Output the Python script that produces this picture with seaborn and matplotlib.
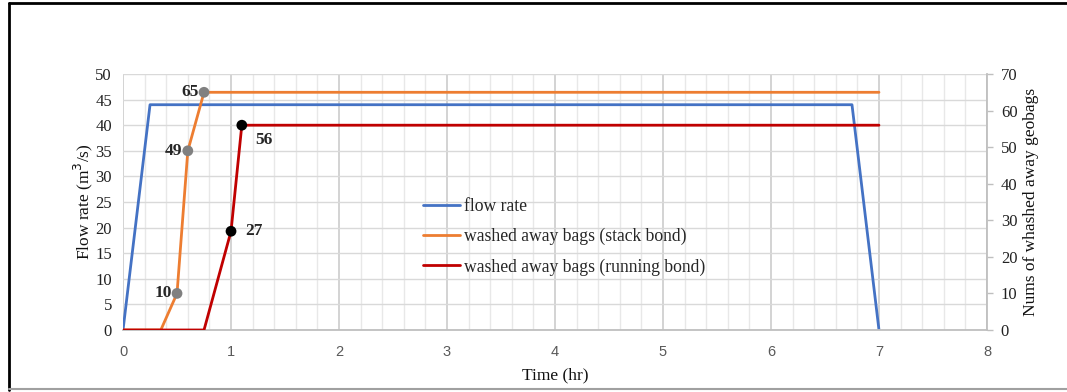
import matplotlib
matplotlib.use("Agg")
import matplotlib.pyplot as plt
from matplotlib.lines import Line2D
from matplotlib.ticker import MultipleLocator
import seaborn as sns
import pandas as pd

# Flow hydrograph (left axis)
flow_time = [0, 0.25, 6.75, 7]
flow_rate = [0, 44, 44, 0]

# Cumulative washed-away geobags (right axis)
stack_time = [0, 0.35, 0.5, 0.6, 0.75, 7]
stack_bags = [0, 0, 10, 49, 65, 65]
running_time = [0, 0.75, 1.0, 1.1, 7]
running_bags = [0, 0, 27, 56, 56]

# Points that carry a marker and a value label
stack_marked = [2, 3, 4]
running_marked = [2, 3]

series_names = ["flow rate",
                "washed away bags (stack bond)",
                "washed away bags (running bond)"]

BLUE = "#4472C4"
ORANGE = "#ED7D31"
RED = "#C00000"
SERIF = "Liberation Serif"

sns.set_style("white")
plt.rcParams["font.family"] = [SERIF, "DejaVu Sans"]

fig = plt.figure(figsize=(10.67, 3.92), dpi=100)
ax = fig.add_axes([0.1153, 0.1582, 0.8097, 0.653])
ax2 = ax.twinx()

flow_df = pd.DataFrame({"t": flow_time, "q": flow_rate})
stack_df = pd.DataFrame({"t": stack_time, "n": stack_bags})
run_df = pd.DataFrame({"t": running_time, "n": running_bags})

sns.lineplot(data=flow_df, x="t", y="q", ax=ax, color=BLUE, lw=2,
             sort=False, estimator=None, label=series_names[0], legend=False)
sns.lineplot(data=stack_df, x="t", y="n", ax=ax2, color=ORANGE, lw=2,
             sort=False, estimator=None, label=series_names[1], legend=False)
sns.lineplot(data=run_df, x="t", y="n", ax=ax2, color=RED, lw=2,
             sort=False, estimator=None, label=series_names[2], legend=False)

# Markers on the recorded counts
sns.scatterplot(x=[stack_time[i] for i in stack_marked],
                y=[stack_bags[i] for i in stack_marked],
                ax=ax2, color="#808080", s=60, edgecolor="none", zorder=5,
                legend=False)
sns.scatterplot(x=[running_time[i] for i in running_marked],
                y=[running_bags[i] for i in running_marked],
                ax=ax2, color="black", s=60, edgecolor="none", zorder=5,
                legend=False)

lab_kw = dict(textcoords="offset points", fontsize=12.5, fontweight="bold",
              family=SERIF, va="center")
for i in stack_marked:
    ax2.annotate(str(stack_bags[i]), (stack_time[i], stack_bags[i]),
                 xytext=(-4, 0), ha="right", **lab_kw)
ax2.annotate(str(running_bags[2]), (running_time[2], running_bags[2]),
             xytext=(10.5, 0), ha="left", **lab_kw)
ax2.annotate(str(running_bags[3]), (running_time[3], running_bags[3]),
             xytext=(9.5, -11), ha="left", **lab_kw)

# Axes limits and ticks
ax.set_xlim(0, 8)
ax.set_ylim(0, 50)
ax2.set_ylim(0, 70)
ax.xaxis.set_major_locator(MultipleLocator(1))
ax.xaxis.set_minor_locator(MultipleLocator(0.2))
ax.yaxis.set_major_locator(MultipleLocator(5))
ax2.yaxis.set_major_locator(MultipleLocator(10))

ax.grid(which="major", axis="x", color="#d0d0d0", lw=1.3)
ax.grid(which="minor", axis="x", color="#e8e8e8", lw=1.0)
ax.grid(which="major", axis="y", color="#d9d9d9", lw=1.0)
ax.set_axisbelow(True)

for s in ["top", "right", "left"]:
    ax.spines[s].set_visible(False)
for s in ["top", "left", "bottom"]:
    ax2.spines[s].set_visible(False)
ax.spines["bottom"].set_color("#bfbfbf")
ax.spines["bottom"].set_linewidth(1.3)
ax2.spines["right"].set_color("#bfbfbf")
ax2.spines["right"].set_linewidth(1.3)

ax.tick_params(axis="y", length=0, pad=8, labelsize=12, labelcolor="#222222")
ax.tick_params(axis="x", which="both", length=0, pad=11, labelsize=10.5,
               labelcolor="#595959")
for t in ax.get_xticklabels():
    t.set_family("Liberation Sans")
ax2.tick_params(axis="y", length=4, width=1, color="#bfbfbf", pad=6,
                labelsize=12, labelcolor="#222222")

ax.set_xlabel("Time (hr)", fontsize=12.5, labelpad=6, color="#111111")
ax.set_ylabel("Flow rate (m$^3$/s)", fontsize=12.5, labelpad=0, color="#111111")
ax2.set_ylabel("Nums of whashed away geobags", fontsize=12.5, labelpad=4,
               color="#111111")

# Legend built from the drawn lines
handles = [ax.get_lines()[0]] + ax2.get_lines()[:2]
leg = fig.legend(handles, series_names, loc="upper left",
                 bbox_to_anchor=(0.3965, 0.495), frameon=False, fontsize=12.7,
                 handlelength=2.1, handletextpad=0.2, labelspacing=0.74,
                 borderaxespad=0, borderpad=0)

# Outer frame of the figure
fig.add_artist(Line2D([0.0085, 0.0085], [0.005, 0.993], color="black", lw=2,
                      transform=fig.transFigure))
fig.add_artist(Line2D([0.0085, 1.0], [0.992, 0.992], color="black", lw=2,
                      transform=fig.transFigure))
fig.add_artist(Line2D([0.0085, 1.0], [0.008, 0.008], color="#a0a0a0", lw=1.5,
                      transform=fig.transFigure))

fig.savefig("out.png", dpi=100)
